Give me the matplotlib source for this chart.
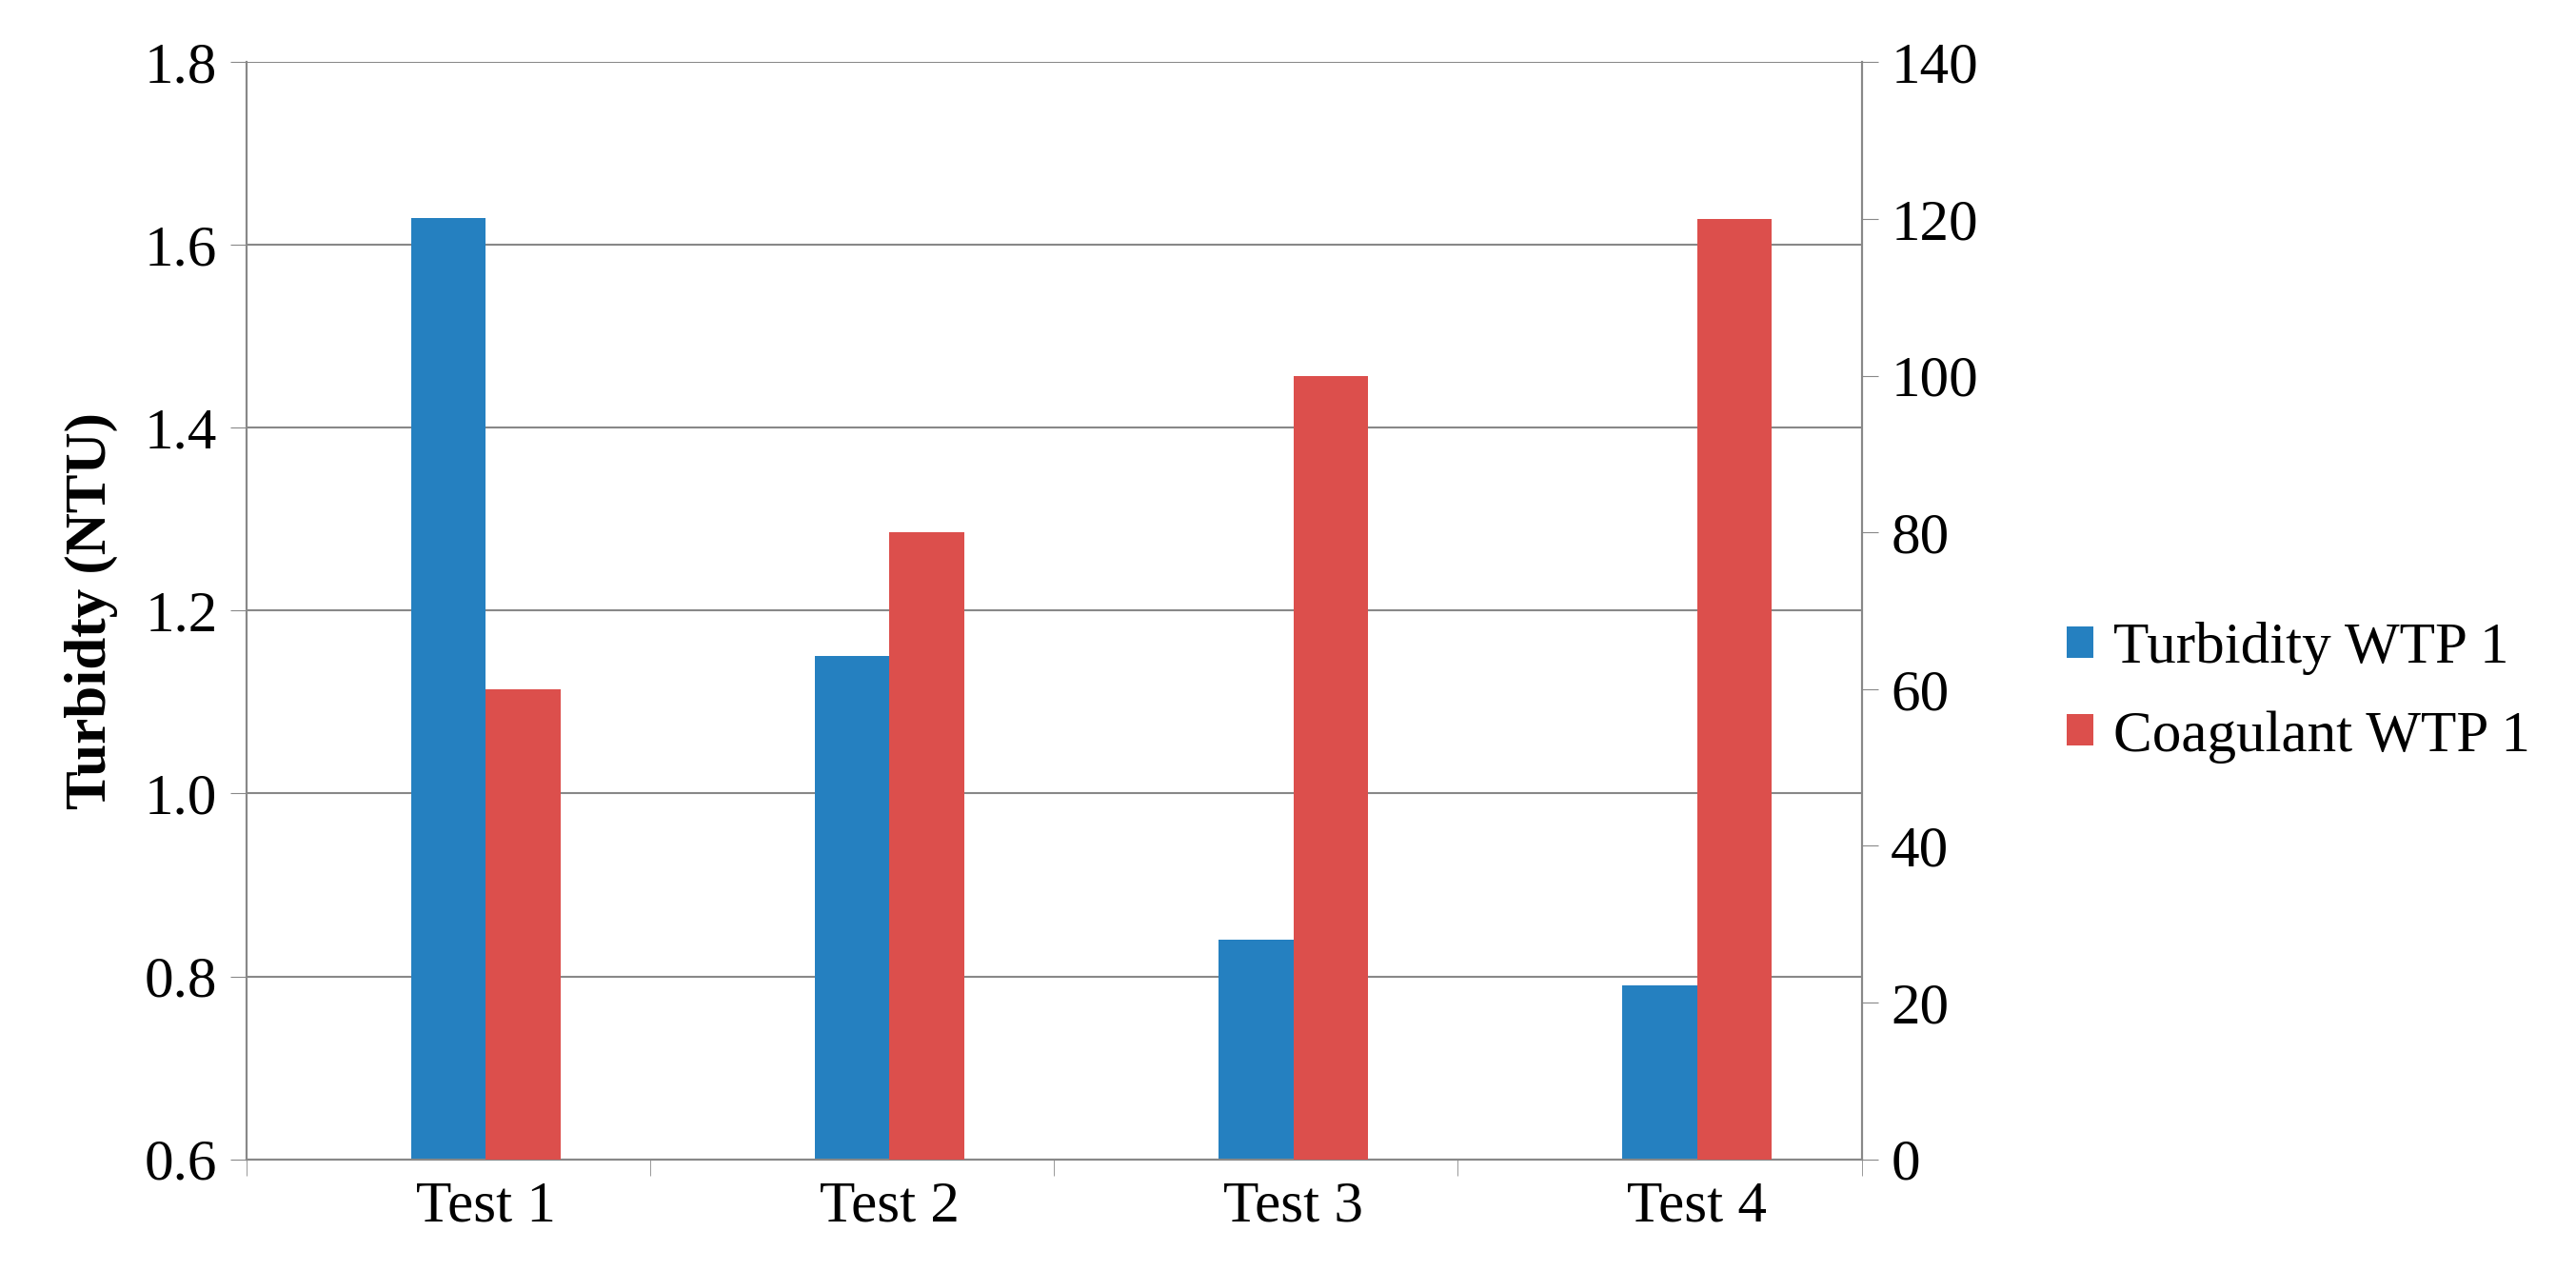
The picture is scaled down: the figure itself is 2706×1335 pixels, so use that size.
import matplotlib
matplotlib.use("Agg")
import matplotlib.pyplot as plt
import numpy as np

categories = ["Test 1", "Test 2", "Test 3", "Test 4"]
turbidity = [1.63, 1.15, 0.84, 0.79]
coagulant = [60, 80, 100, 120]

plt.rcParams['font.family'] = ['Liberation Serif', 'DejaVu Serif']
fig = plt.figure(figsize=(27.06, 13.35), dpi=100)
ax = fig.add_axes([0.0957, 0.088, 0.627, 0.863])
ax2 = ax.twinx()
x = np.arange(len(categories))
w = 0.185
blue = "#2580C0"; red = "#DC4F4C"
b1 = ax.bar(x, np.array(turbidity) - 0.6, w, bottom=0.6, color=blue, label="Turbidity WTP 1", zorder=3)
b2 = ax2.bar(x + w, coagulant, w, color=red, label="Coagulant WTP 1", zorder=3)
ax.set_ylim(0.6, 1.8)
ax.set_yticks(np.arange(0.6, 1.81, 0.2))
ax.set_yticklabels([f"{v:.1f}" for v in np.arange(0.6, 1.81, 0.2)])
ax2.set_ylim(0, 140)
ax2.set_yticks(range(0, 141, 20))
ax.set_xlim(-0.5, 3.5)
ax.set_xticks(x + w/2)
ax.set_xticklabels(categories)
ax.set_xticks(np.arange(-0.5, 3.6, 1), minor=True)
fs = 44
ax.tick_params(axis='x', which='major', length=0, labelsize=fs, pad=16)
ax.tick_params(axis='x', which='minor', length=12, color="#888888")
ax.tick_params(axis='y', labelsize=fs, length=12, color="#888888", pad=10)
ax2.tick_params(axis='y', labelsize=fs, length=12, color="#888888", pad=10)
ax.yaxis.grid(True, color="#888888", linewidth=1.5, zorder=0)
ax.set_axisbelow(True)
for a in (ax, ax2):
    a.spines["top"].set_visible(False)
    for s in ("left", "right", "bottom"):
        a.spines[s].set_color("#888888")
        a.spines[s].set_linewidth(1.5)
ax.set_ylabel("Turbidty (NTU)", fontsize=fs, fontweight="bold", labelpad=20)
fig.legend(handles=[b1, b2], loc="center left", bbox_to_anchor=(0.782, 0.455), frameon=False,
           fontsize=fs, handlelength=0.45, handleheight=0.45, labelspacing=0.6, handletextpad=0.35)
fig.savefig("out.png", dpi=100)
